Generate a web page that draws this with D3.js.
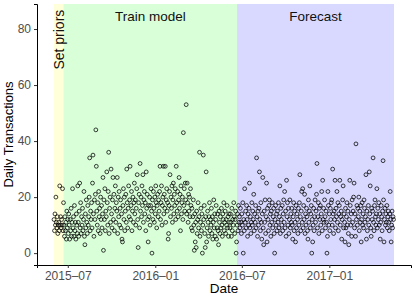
<!DOCTYPE html>
<html>
<head>
<meta charset="utf-8">
<script src="https://cdn.jsdelivr.net/npm/d3@7"></script>
<style>
  body { margin: 0; background: #fff; }
  svg text { font-family: "Liberation Sans", Arial, sans-serif; }
</style>
</head>
<body>
<div id="chart"></div>
<script>
// first day of the series, one value per day after it
const startDate = "2015-06-02";

const dailyCounts = [
  12,8,14,10,20,11,9,13,7,10, 11,8,24,10,13,9,12,10,23,8,
  18,10,6,13,8,11,5,15,9,12, 7,14,10,5,12,8,16,6,11,23,
  9,13,6,17,8,11,5,14,10,7, 24,11,6,15,25,9,18,7,13,10,
  16,8,12,22,6,3,14,9,19,11, 7,17,10,13,20,34,8,15,12,18,
  9,25,35,14,6,19,12,21,44,31, 15,10,18,8,22,13,16,7,20,12,
  17,9,14,27,1,19,12,23,8,15, 13,29,18,10,22,36,7,16,20,11,
  30,14,9,19,27,12,21,8,16,24, 11,18,15,27,7,20,13,22,10,16,
  19,9,14,5,4,17,23,12,20,8, 15,21,11,30,18,9,16,24,13,19,
  31,12,17,22,8,15,20,11,18,25, 14,19,10,16,23,28,12,2,18,21,
  9,32,15,20,13,24,17,28,11,19, 22,14,18,8,29,16,21,12,4,17,
  13,20,10,17,23,15,0,19,12,22, 16,11,20,14,24,18,9,17,21,13,
  19,15,22,31,12,18,24,10,17,20, 31,14,21,16,31,11,19,23,15,18,
  5,7,17,22,28,13,20,16,24,11, 19,25,14,21,17,23,12,31,18,15,
  22,13,19,27,16,21,8,24,14,18, 20,12,43,17,23,15,25,19,53,14,
  25,18,11,21,15,20,13,23,17,9, 16,8,13,19,10,1,14,4,11,2,
  15,7,12,18,9,13,36,6,11,16, 8,14,0,10,35,12,17,7,2,13,
  29,4,9,15,11,6,13,18,8,12, 10,16,7,13,5,11,19,9,14,6,
  12,17,5,9,14,8,3,15,11,7, 13,9,16,10,6,14,12,18,8,11,
  15,7,12,10,17,9,13,6,14,11, 9,14,11,6,16,8,12,10,18,13,
  7,12,15,0,4,10,14,8,17,11, 13,9,16,11,7,14,10,18,0,12,
  8,23,11,15,9,17,12,6,14,10, 16,25,9,13,7,11,18,10,15,12,
  21,8,14,11,17,9,34,13,6,15, 10,16,29,12,8,18,11,5,14,27,
  9,3,15,11,19,7,13,25,4,16, 12,8,17,19,10,14,6,15,11,18,
  9,13,16,7,0,12,17,10,14,8, 15,11,18,9,13,24,7,16,12,10,
  17,8,14,19,11,22,9,15,6,26, 13,18,10,16,7,12,19,9,14,11,
  16,10,5,13,18,8,15,11,4,17, 9,14,12,7,16,10,18,28,13,8,
  15,22,11,23,9,17,12,21,7,14, 10,16,13,8,5,19,11,15,24,9,
  14,17,0,12,4,10,16,8,13,19, 11,15,21,32,9,13,18,7,16,12,
  17,10,14,22,8,26,12,16,11,19, 13,9,15,11,0,6,22,17,10,14,
  8,16,12,18,19,10,30,14,7,15, 12,26,9,16,13,22,11,18,8,14,
  17,26,10,13,15,5,12,19,24,9, 14,11,4,16,9,13,18,10,15,7,
  3,12,26,17,10,14,6,19,11,15, 20,25,9,14,6,39,12,17,10,16,
  13,20,8,15,11,17,4,12,18,10, 14,9,19,16,11,13,28,5,15,8,
  12,17,10,29,14,24,9,6,16,12, 15,34,11,8,17,19,13,10,14,23,
  9,16,12,18,10,14,5,11,17,13, 8,15,33,19,4,12,16,10,14,11,
  17,9,13,15,11,8,14,22,12,4, 10,15,9,13,12
];

const phaseNames = ["Set priors", "Train model", "Forecast"];
const phaseStarts = ["2015-06-02", "2015-06-22", "2016-06-21"];
const phaseEnds = ["2015-06-22", "2016-06-21", "2017-05-17"];
const phaseColors = ["#ffffd9", "#d9ffd9", "#d9d9ff"];

const yTicks = [0, 20, 40, 60, 80];
const xTicks = ["2015-07-01", "2016-01-01", "2016-07-01", "2017-01-01"];
const yTop = 84.7;

const W = 415, H = 297;
const margin = { top: 4, right: 4, bottom: 32, left: 37 };
const width = W - margin.left - margin.right;
const height = H - margin.top - margin.bottom;

const parse = d3.timeParse("%Y-%m-%d");
const t0 = parse(startDate);
const points = dailyCounts.map((v, i) => ({ date: d3.timeDay.offset(t0, i), value: v }));
const phases = phaseNames.map((name, i) => ({
  name: name, start: parse(phaseStarts[i]), end: parse(phaseEnds[i]), color: phaseColors[i]
}));

const svg = d3.select("#chart").append("svg")
  .attr("width", W)
  .attr("height", H);

const g = svg.append("g")
  .attr("transform", "translate(" + margin.left + "," + margin.top + ")");

// ggplot-like 5% padding on both scales
const xLo = phases[0].start, xHi = phases[2].end;
const pad = (xHi - xLo) * 0.05;
const x = d3.scaleTime()
  .domain([new Date(+xLo - pad), new Date(+xHi + pad)])
  .range([0, width]);

const yPad = yTop * 0.05;
const y = d3.scaleLinear()
  .domain([-yPad, yTop + yPad])
  .range([height, 0]);

// background bands
g.selectAll("rect.phase")
  .data(phases)
  .join("rect")
  .attr("class", "phase")
  .attr("x", d => x(d.start))
  .attr("width", d => x(d.end) - x(d.start))
  .attr("y", 0)
  .attr("height", height)
  .attr("fill", d => d.color);

// points
g.append("g")
  .selectAll("circle")
  .data(points)
  .join("circle")
  .attr("cx", d => x(d.date))
  .attr("cy", d => y(d.value))
  .attr("r", 1.9)
  .attr("fill", "none")
  .attr("stroke", "#000")
  .attr("stroke-opacity", 0.8)
  .attr("stroke-width", 0.95);

// phase labels
const mid = d => new Date((+d.start + +d.end) / 2);
g.selectAll("text.phase")
  .data(phases.slice(1))
  .join("text")
  .attr("class", "phase")
  .attr("x", d => x(mid(d)))
  .attr("y", y(yTop))
  .attr("dy", "0.35em")
  .attr("text-anchor", "middle")
  .attr("font-size", 13.5)
  .attr("fill", "#111")
  .text(d => d.name);

g.append("text")
  .attr("transform", "translate(" + x(mid(phases[0])) + "," + y(yTop + 2.2) + ") rotate(-90)")
  .attr("dy", "0.35em")
  .attr("text-anchor", "end")
  .attr("font-size", 14)
  .attr("fill", "#111")
  .text(phases[0].name);

// axes
const fmt = d3.timeFormat("%Y\u2013%m");
const xAxis = d3.axisBottom(x)
  .tickValues(xTicks.map(parse))
  .tickFormat(fmt)
  .tickSize(3)
  .tickPadding(3);
const yAxis = d3.axisLeft(y)
  .tickValues(yTicks)
  .tickSize(3)
  .tickPadding(3);

const gx = g.append("g")
  .attr("transform", "translate(0," + height + ")")
  .call(xAxis);
const gy = g.append("g").call(yAxis);

[gx, gy].forEach(a => {
  a.select(".domain").attr("stroke", "#000").attr("stroke-width", 1);
  a.selectAll(".tick line").attr("stroke", "#333");
  a.selectAll(".tick text")
    .attr("fill", "#4d4d4d")
    .attr("font-size", 12)
    .attr("font-family", "Liberation Sans, Arial, sans-serif");
});

// axis titles
g.append("text")
  .attr("x", width / 2)
  .attr("y", height + 28)
  .attr("text-anchor", "middle")
  .attr("font-size", 13.5)
  .attr("fill", "#000")
  .text("Date");

g.append("text")
  .attr("transform", "translate(" + (-24) + "," + (height / 2) + ") rotate(-90)")
  .attr("text-anchor", "middle")
  .attr("font-size", 13)
  .attr("fill", "#000")
  .text("Daily Transactions");
</script>
</body>
</html>
